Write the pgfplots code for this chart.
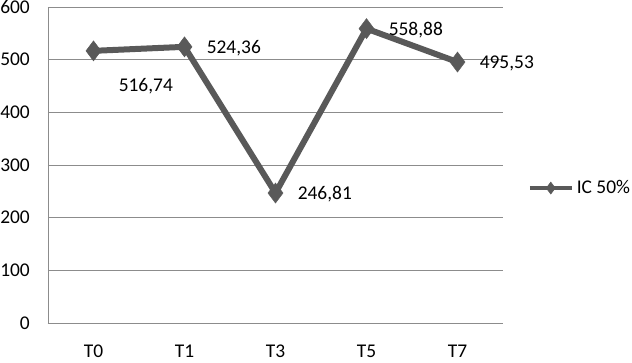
\documentclass[border=0pt]{standalone}
\usepackage{pgfplots}
\pgfplotsset{compat=1.18}
\usepackage{fontspec}
\setmainfont{Carlito}
\definecolor{linec}{HTML}{595959}
\definecolor{gridc}{HTML}{8C8C8C}
\begin{document}
\fontsize{19.5}{23}\selectfont
\begin{tikzpicture}
\useasboundingbox (-48bp,-40bp) rectangle (584bp,323bp);
\begin{axis}[
  at={(0,0)}, anchor=south west,
  scale only axis, width=455bp, height=316bp,
  xmin=-0.5, xmax=4.5, ymin=0, ymax=600,
  xtick={0,1,2,3,4}, xticklabels={T0,T1,T3,T5,T7},
  ytick={0,100,200,300,400,500,600},
  /pgf/number format/assume math mode=true,
  ymajorgrids, grid style={gridc, line width=0.9bp},
  axis x line*=bottom, axis y line*=left,
  axis line style={gridc, line width=0.9bp, -},
  tick style={draw=none},
  ticklabel style={font=\fontsize{19.5}{23}\selectfont},
  xticklabel style={anchor=base, yshift=-34bp, inner sep=0pt},
  yticklabel style={anchor=east, xshift=-18bp, inner sep=0pt},
  clip=false,
  legend style={at={(1.054,0.427)}, anchor=west, draw=none, fill=none,
    inner sep=0pt, font=\fontsize{19.5}{23}\selectfont,
    nodes={inner sep=0pt, anchor=west}, /tikz/column sep=3bp},
  legend image code/.code={%
    \draw[#1, line width=4bp, mark repeat=2, mark phase=2, mark size=6bp]
      plot coordinates {(0bp,0bp) (21bp,0bp) (42bp,0bp)};},
]
\addplot[color=linec, line width=6bp, mark=diamond*, mark size=10bp,
  mark options={solid, line width=0.5bp},
  point meta=explicit symbolic,
  nodes near coords,
  every node near coord/.append style={anchor=west, xshift=22bp, yshift=-1bp,
    inner sep=0pt, color=black, font=\fontsize{19.5}{23}\selectfont},
  coordinate style/.condition={\coordindex==0}{xshift=3bp, yshift=-34bp},
] table[meta=label] {
x y label
0 516.74 516,74
1 524.36 524,36
2 246.81 246,81
3 558.88 558,88
4 495.53 495,53
};
\addlegendentry{IC 50\%}
\end{axis}
\end{tikzpicture}
\end{document}
